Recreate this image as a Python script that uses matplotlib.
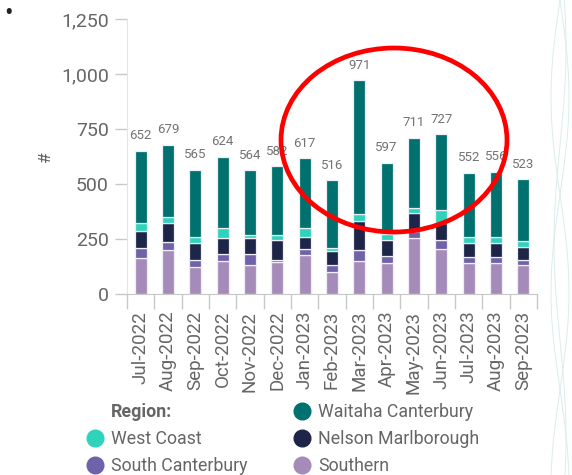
import numpy as np
import matplotlib
matplotlib.use('Agg')
import matplotlib.pyplot as plt
from matplotlib.lines import Line2D
from matplotlib.patches import Ellipse

plt.rcParams['font.family'] = ['Roboto', 'DejaVu Sans']

months = ['Jul-2022', 'Aug-2022', 'Sep-2022', 'Oct-2022', 'Nov-2022', 'Dec-2022',
          'Jan-2023', 'Feb-2023', 'Mar-2023', 'Apr-2023', 'May-2023', 'Jun-2023',
          'Jul-2023', 'Aug-2023', 'Sep-2023']

# stacked bottom -> top
southern = [163, 201, 121, 150, 133, 144, 176, 101, 150, 143, 254, 206, 143, 143, 130]
south_canterbury = [46, 35, 34, 33, 50, 11, 29, 29, 48, 31, 33, 41, 25, 25, 26]
nelson_marlborough = [78, 88, 75, 72, 72, 89, 52, 64, 134, 72, 79, 76, 66, 66, 59]
west_coast = [34, 24, 29, 47, 15, 23, 45, 13, 32, 28, 26, 57, 26, 26, 26]
waitaha_canterbury = [331, 331, 306, 322, 294, 315, 315, 309, 607, 323, 319, 347, 292, 296, 282]

series = [
    ('Southern', southern, '#A58BBA'),
    ('South Canterbury', south_canterbury, '#6F62A8'),
    ('Nelson Marlborough', nelson_marlborough, '#1D2549'),
    ('West Coast', west_coast, '#2ED3BB'),
    ('Waitaha Canterbury', waitaha_canterbury, '#00716F'),
]
colors = {name: c for name, _, c in series}

yticks = [0, 250, 500, 750, 1000, 1250]

txt = '#666666'

fig = plt.figure(figsize=(5.72, 4.75), dpi=100)
ax = fig.add_axes([127/572, 1 - 294/475, 410/572, 275/475])

x = np.arange(len(months))
bottom = np.zeros(len(months))
for name, vals, c in series:
    ax.bar(x, vals, width=0.45, bottom=bottom, color=c,
           edgecolor='#eeeef4', linewidth=0.9, zorder=2)
    bottom += np.array(vals)

for xi, tot in zip(x, bottom):
    ax.annotate(f'{int(tot)}', (xi, tot), xytext=(0, 6), textcoords='offset points',
                ha='center', va='bottom', fontsize=9.5, color='#737373')

ax.set_xlim(-0.5, len(months) - 0.5)
ax.set_ylim(0, 1250)
ax.set_yticks(yticks)
ax.set_yticklabels([f'{v:,}' for v in yticks])
ax.set_xticks(x)
ax.set_xticklabels(months, rotation=90)
ax.set_xticks(np.arange(len(months) + 1) - 0.5, minor=True)
ax.tick_params(axis='x', which='major', length=0, pad=12, labelsize=13.5, labelcolor=txt)
ax.tick_params(axis='x', which='minor', length=11, color='#c8c8c8', width=1)
ax.tick_params(axis='y', length=9, color='#c8c8c8', width=1, pad=4, labelsize=14, labelcolor=txt)

for s in ['top', 'right']:
    ax.spines[s].set_visible(False)
ax.spines['left'].set_color('#e4e4e4')
ax.spines['bottom'].set_color('#c8c8c8')

ax.set_ylabel('#', fontsize=12.5, color=txt)
ax.yaxis.set_label_coords(-0.18, 0.5)

# legend
handles = [Line2D([], [], ls='', marker='o', alpha=0)]
labels = ['Region:']
for name in ['West Coast', 'South Canterbury', 'Waitaha Canterbury',
             'Nelson Marlborough', 'Southern']:
    handles.append(Line2D([], [], ls='', marker='o', markersize=12,
                          color=colors[name]))
    labels.append(name)
leg = fig.legend(handles, labels, ncol=2, loc='upper left',
                 bbox_to_anchor=(84/572, 1 - 403/475), frameon=False,
                 fontsize=12.8, labelcolor=txt, handletextpad=0.3,
                 handlelength=1.2, columnspacing=2.5, labelspacing=0.52,
                 borderaxespad=0, borderpad=0)
leg.get_texts()[0].set_fontweight('bold')

# red highlight ring
fig.add_artist(Ellipse((394/572, 1 - 140/475), 226/572, 184/475,
                       transform=fig.transFigure, fill=False,
                       edgecolor='red', linewidth=3.4, zorder=10))

# bullet
fig.text(8/572, 1 - 14/475, '\u2022', fontsize=18, color='#222222',
         ha='center', va='center')

# faint decorative lines at right edge
yy = np.linspace(0, 475, 200)
for ph, amp in [(0, 9), (np.pi, 9), (0.8, 6)]:
    xx = 560 + amp * np.sin(yy / 62 + ph)
    fig.add_artist(Line2D(xx / 572, 1 - yy / 475, transform=fig.transFigure,
                          color='#dcecec', linewidth=0.7))

fig.savefig('out.png', dpi=100)
